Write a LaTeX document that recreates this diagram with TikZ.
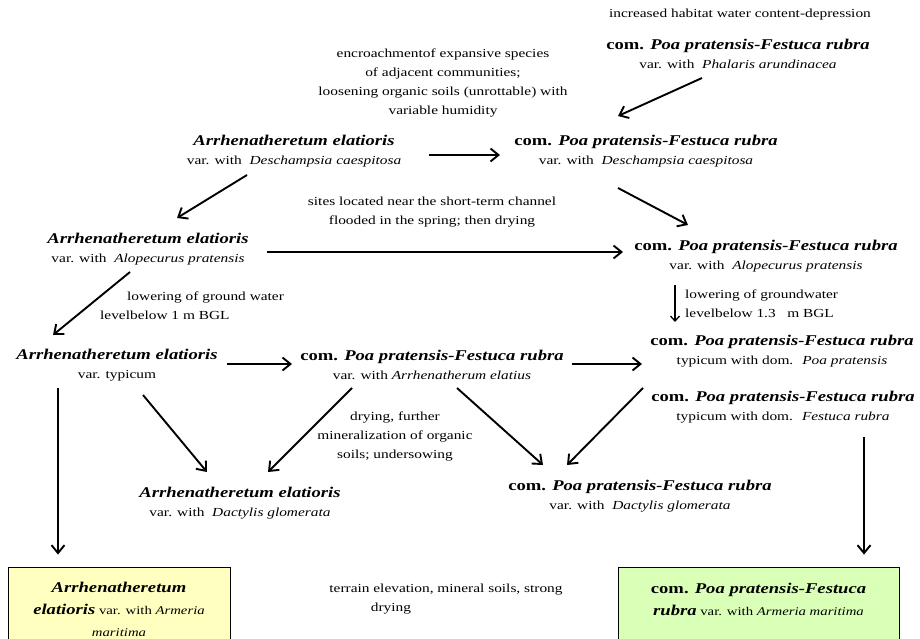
\documentclass[tikz,border=0pt]{standalone}
\usepackage{fontspec}
\setmainfont[FakeStretch=1.25]{Liberation Serif}
\usepackage{tikz}
\usetikzlibrary{
  arrows.meta,
  calc,
}
\definecolor{mdwYellow}{RGB}{255, 255, 192}
\definecolor{mdwGreen} {RGB}{218, 255, 182}
\newcommand{\comname}[1]{{\fontsize{14.9}{18}\selectfont\bfseries #1}}

\begin{document}
\begin{tikzpicture}[
  x=1pt, y=-1pt,
  comm/.style   ={align=center, inner sep=0pt, font=\fontsize{12.3}{19}\selectfont},
  lbl/.style    ={align=center, inner sep=0pt, font=\fontsize{12.3}{19}\selectfont},
  boxtxt/.style ={align=center, inner sep=0pt, font=\fontsize{11.8}{22}\selectfont},
  plotbox/.style={draw, line width=0.8pt, minimum width=#1, minimum height=76pt,
                  inner sep=0pt},
  arr/.style    ={-{Straight Barb[length=8pt,width=13pt]}, line width=1.9pt},
  thinarr/.style={-{Straight Barb[length=5pt,width=9pt]}, line width=1.3pt},
]
  \useasboundingbox (0,0) rectangle (920,639);
  \clip (0,0) rectangle (920,639);

  % Top: wetter variants
  \node[lbl]  (incr) at (740,15)  {increased habitat water content-depression};
  \node[comm] (P1)   at (738,54)  {\comname{com. \textit{Poa pratensis-Festuca rubra}}\\var. with~ \textit{Phalaris arundinacea}};
  \node[lbl]  (encr) at (443,83)  {encroachmentof expansive species\\of adjacent communities;\\loosening organic soils (unrottable) with\\variable humidity};
  \node[comm] (A1)   at (294,151) {\comname{\textit{Arrhenatheretum elatioris}}\\var. with~ \textit{Deschampsia caespitosa}};
  \node[comm] (P2)   at (646,151) {\comname{com. \textit{Poa pratensis-Festuca rubra}}\\var. with~ \textit{Deschampsia caespitosa}};

  % Middle rows
  \node[lbl]  (site) at (432,212) {sites located near the short-term channel\\flooded in the spring; then drying};
  \node[comm] (A2)   at (148,249) {\comname{\textit{Arrhenatheretum elatioris}}\\var. with~ \textit{Alopecurus pratensis}};
  \node[comm] (P3)   at (766,256) {\comname{com. \textit{Poa pratensis-Festuca rubra}}\\var. with~ \textit{Alopecurus pratensis}};
  \node[lbl, align=left, anchor=west] (lowR) at (685,304) {lowering of groundwater\\levelbelow 1.3~~ m BGL};
  \node[lbl, align=left, anchor=west] (lowL) at (100,306) {\hspace*{27pt}lowering of ground water\\levelbelow 1 m BGL};
  \node[comm] (A3)   at (117,365) {\comname{\textit{Arrhenatheretum elatioris}}\\var. typicum};
  \node[comm] (P4a)  at (432,365) {\comname{com. \textit{Poa pratensis-Festuca rubra}}\\var. with \textit{Arrhenatherum elatius}};
  \node[comm] (P4)   at (782,351) {\comname{com. \textit{Poa pratensis-Festuca rubra}}\\typicum with dom.~ \textit{Poa pratensis}};
  \node[comm] (P5)   at (783,407) {\comname{com. \textit{Poa pratensis-Festuca rubra}}\\typicum with dom.~ \textit{Festuca rubra}};

  % Drier variants
  \node[lbl]  (dry)  at (395,436) {drying, further\\mineralization of organic\\soils; undersowing};
  \node[comm] (A4)   at (240,503) {\comname{\textit{Arrhenatheretum elatioris}}\\var. with~ \textit{Dactylis glomerata}};
  \node[comm] (P6)   at (640,496) {\comname{com. \textit{Poa pratensis-Festuca rubra}}\\var. with~ \textit{Dactylis glomerata}};
  \node[lbl]  (terr) at (446,599) {terrain elevation, mineral soils, strong\\drying\hspace*{110pt}};

  % Final stages (boxes run off the bottom edge)
  \node[plotbox=222pt, fill=mdwYellow] (yelbox) at (119,605) {};
  \node[boxtxt] (yeltxt) at (119,609) {\comname{\textit{Arrhenatheretum}}\\\comname{\textit{elatioris}} var. with \textit{Armeria}\\\textit{maritima}};
  \node[plotbox=281pt, fill=mdwGreen] (grnbox) at (758.5,605) {};
  \node[boxtxt] (grntxt) at (758.5,599) {\comname{com. \textit{Poa pratensis-Festuca}}\\\comname{\textit{rubra}} var. with \textit{Armeria maritima}};

  % Transitions
  \draw[arr] ($(A1)+(135,4)$)   -- ($(P2)+(-146,4)$);
  \draw[arr] ($(P1)+(-36,24)$)  -- ($(P2)+(-28,-35)$);
  \draw[arr] ($(A1)+(-47,24)$)  -- ($(A2)+(29,-31)$);
  \draw[arr] ($(P2)+(-28,37)$)  -- ($(P3)+(-78,-31)$);
  \draw[arr] ($(A2)+(119,3)$)   -- ($(P3)+(-143,-4)$);
  \draw[thinarr] ($(P3)+(-91,29)$) -- ($(P4)+(-107,-29)$);
  \draw[arr] ($(A2)+(-18,23)$)  -- ($(A3)+(-64,-30)$);
  \draw[arr] ($(A3)+(110,-1)$)  -- ($(P4a)+(-140,-1)$);
  \draw[arr] ($(P4a)+(140,-1)$) -- ($(P4)+(-140,13)$);
  \draw[arr] ($(A3)+(26,30)$)   -- ($(A4)+(-33,-31)$);
  \draw[arr] ($(P4a)+(-80,23)$) -- ($(A4)+(28,-31)$);
  \draw[arr] ($(P4a)+(25,23)$)  -- ($(P6)+(-97,-31)$);
  \draw[arr] ($(P5)+(-140,-19)$) -- ($(P6)+(-73,-31)$);
  \draw[arr] ($(A3)+(-59,23)$)  -- ($(yelbox.north)+(-61,-12)$);
  \draw[arr] ($(P5)+(81,30)$)   -- ($(grnbox.north)+(105.5,-12)$);

\end{tikzpicture}
\end{document}
